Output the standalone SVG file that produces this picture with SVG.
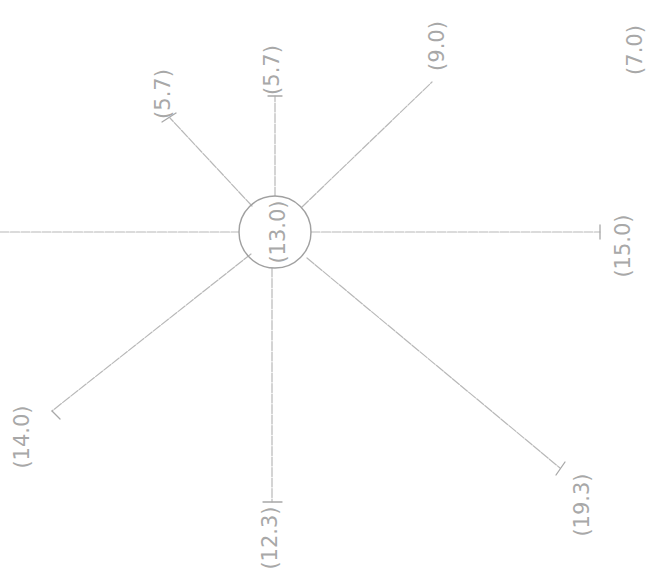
<svg xmlns="http://www.w3.org/2000/svg" width="657" height="576" viewBox="0 0 657 576">
<style>
.ln{stroke:#b8b8b8;stroke-width:1.2;fill:none;stroke-linecap:round;stroke-dasharray:9 1.5}
.tk{stroke:#a8a8a8;stroke-width:1.3;fill:none;stroke-linecap:round}
.lb{font-family:"DejaVu Sans",sans-serif;font-size:21px;fill:#a8a8a8;text-anchor:middle;dominant-baseline:central}
.nd{fill:none;stroke:#a0a0a0;stroke-width:1.4}
</style>
<rect width="657" height="576" fill="#ffffff"/>
<g id="connectors">
<line class="ln" x1="0" y1="232" x2="239" y2="232"/>
<line class="ln" x1="311" y1="232" x2="600" y2="232"/>
<line class="tk" x1="600" y1="225" x2="600" y2="239"/>
<line class="ln" x1="275" y1="196" x2="275" y2="96"/>
<line class="tk" x1="268" y1="96" x2="282" y2="96"/>
<line class="ln" x1="252" y1="206" x2="170" y2="118"/>
<line class="tk" x1="162" y1="122" x2="176" y2="113"/>
<line class="ln" x1="302" y1="207" x2="432" y2="82"/>
<line class="ln" x1="251" y1="254" x2="52" y2="411"/>
<line class="tk" x1="52" y1="411" x2="60" y2="419"/>
<line class="ln" x1="272" y1="268" x2="272" y2="502"/>
<line class="tk" x1="263" y1="502" x2="282" y2="502"/>
<line class="ln" x1="307" y1="258" x2="560" y2="468"/>
<line class="tk" x1="565" y1="462" x2="556" y2="475"/>
</g>
<g id="n-center">
<circle class="nd" cx="275" cy="232" r="36"/>
<text class="lb" transform="translate(278 232) rotate(-90)">(13.0)</text>
</g>
<g id="n-top"><text class="lb" transform="translate(272 70) rotate(-90)">(5.7)</text></g>
<g id="n-topleft"><text class="lb" transform="translate(163 94) rotate(-90)">(5.7)</text></g>
<g id="n-topright"><text class="lb" transform="translate(437 46) rotate(-90)">(9.0)</text></g>
<g id="n-farright"><text class="lb" transform="translate(635 50) rotate(-90)">(7.0)</text></g>
<g id="n-right"><text class="lb" transform="translate(623 246) rotate(-90)">(15.0)</text></g>
<g id="n-bottomleft"><text class="lb" transform="translate(22 437) rotate(-90)">(14.0)</text></g>
<g id="n-bottom"><text class="lb" transform="translate(270 538) rotate(-90)">(12.3)</text></g>
<g id="n-bottomright"><text class="lb" transform="translate(582 505) rotate(-90)">(19.3)</text></g>
</svg>
